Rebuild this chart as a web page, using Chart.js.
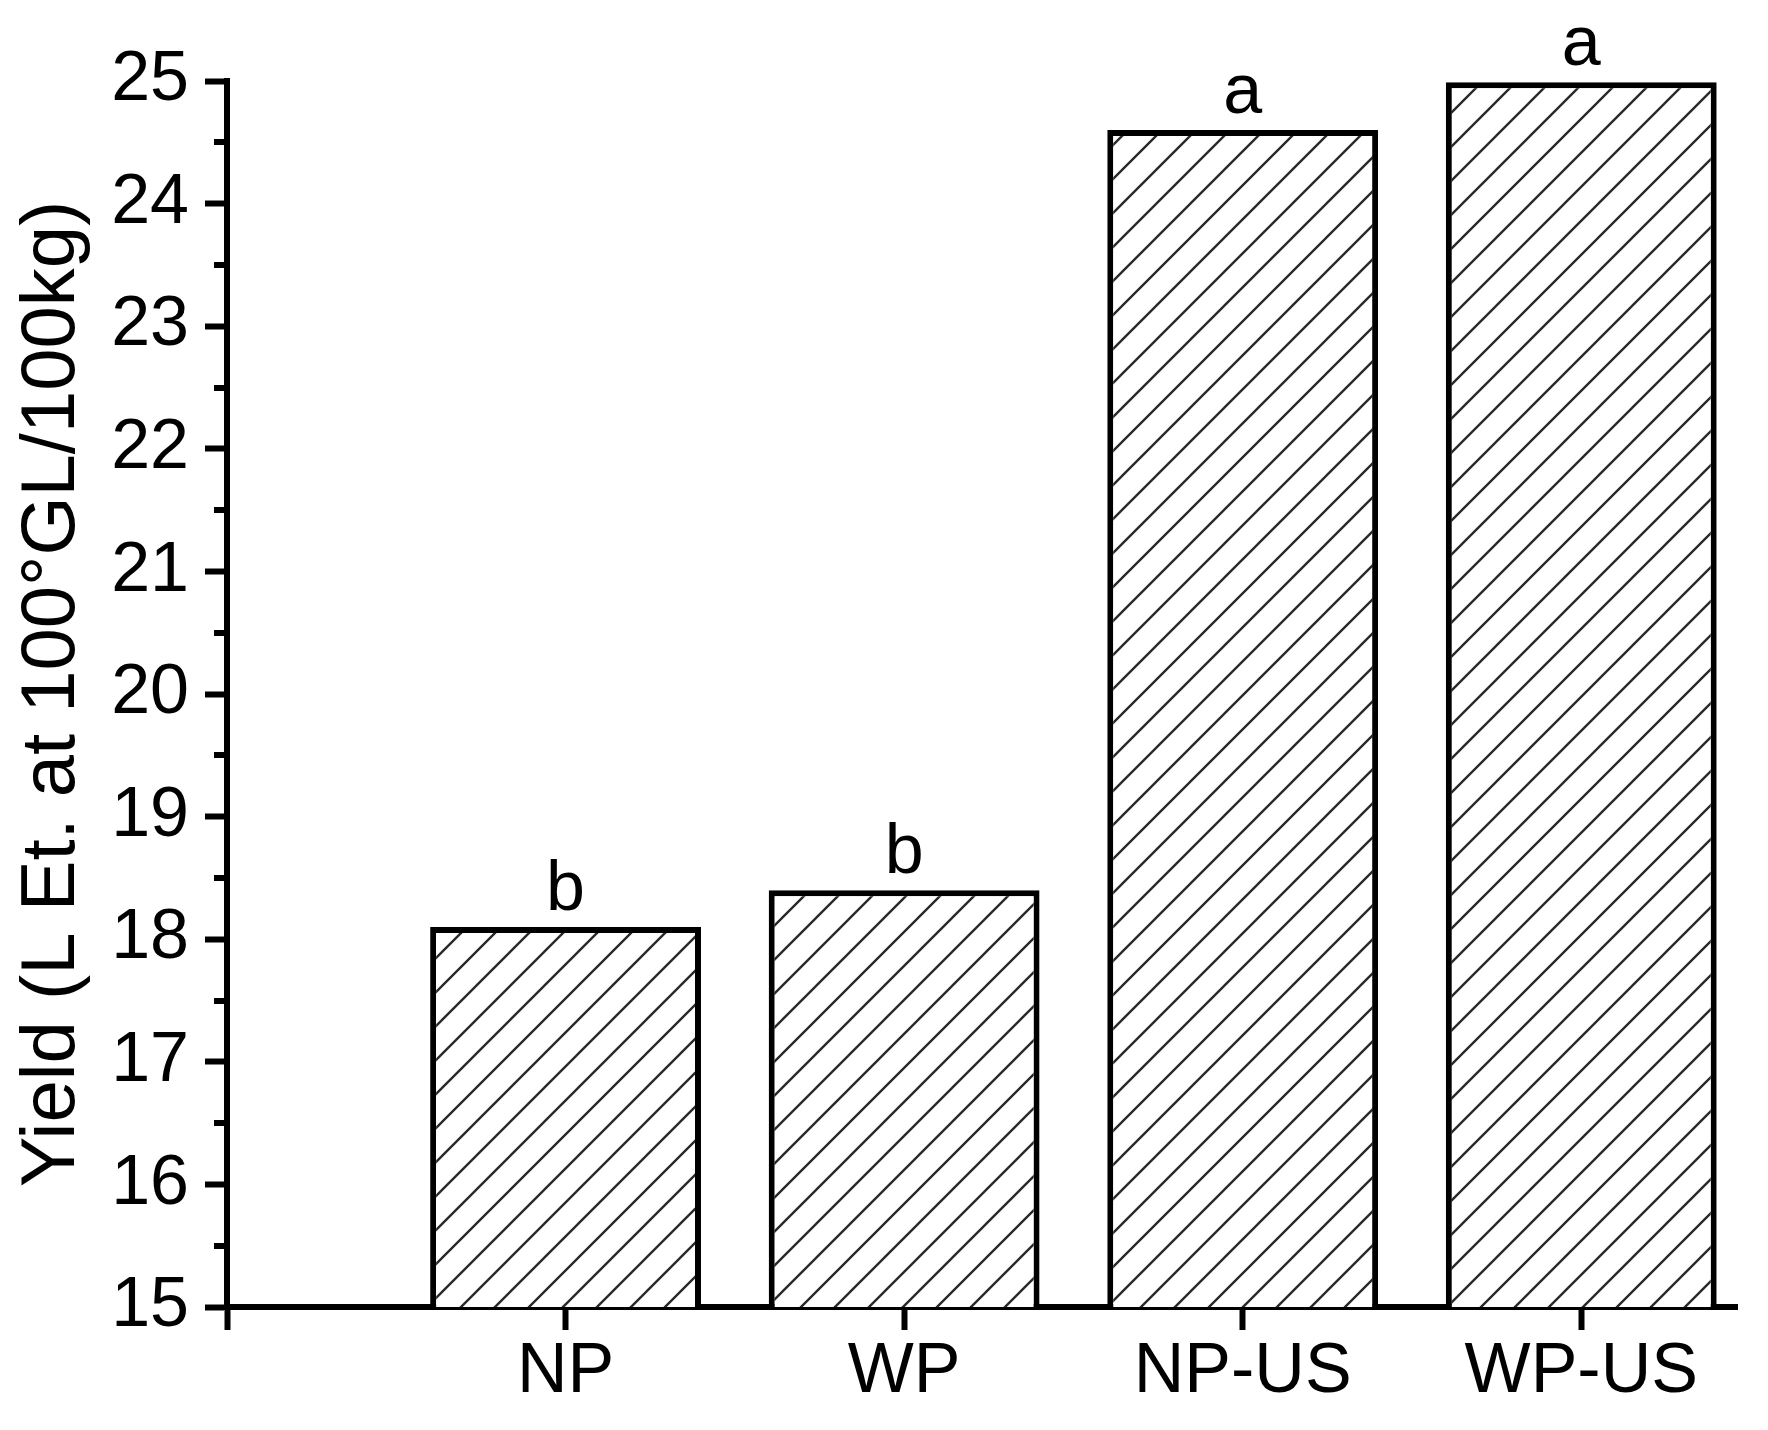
<!DOCTYPE html>
<html>
<head>
<meta charset="utf-8">
<script src="https://cdn.jsdelivr.net/npm/chart.js@4.4.1/dist/chart.umd.min.js"></script>
<style>
  html, body { margin: 0; padding: 0; background: #fff; }
  #wrap { width: 1768px; height: 1430px; }
</style>
</head>
<body>
<div id="wrap"><canvas id="myChart" width="1768" height="1430"></canvas></div>
<script>
const categories = ['NP', 'WP', 'NP-US', 'WP-US'];
const positions = [1, 2, 3, 4];
const yieldValues = [18.1, 18.4, 24.6, 24.99];
const letters = ['b', 'b', 'a', 'a'];
const xTickValues = [0, 1, 2, 3, 4];
const yMajorTicks = [15, 16, 17, 18, 19, 20, 21, 22, 23, 24, 25];
const yMinorTicks = [15.5, 16.5, 17.5, 18.5, 19.5, 20.5, 21.5, 22.5, 23.5, 24.5];

const fontFamily = "'Liberation Sans', Arial, sans-serif";

function hatch() {
    const s = 34;
    const c = document.createElement('canvas');
    c.width = s;
    c.height = s;
    const g = c.getContext('2d');
    g.fillStyle = '#fff';
    g.fillRect(0, 0, s, s);
    g.strokeStyle = '#2a2a2a';
    g.lineWidth = 2.4;
    g.beginPath();
    g.moveTo(0, s);
    g.lineTo(s, 0);
    g.moveTo(-2, 2);
    g.lineTo(2, -2);
    g.moveTo(s - 2, s + 2);
    g.lineTo(s + 2, s - 2);
    g.stroke();
    return g.createPattern(c, 'repeat');
}

// small ticks between the numbered ones
const minorTicks = {
    id: 'minorTicks',
    afterDraw(chart) {
        const ctx = chart.ctx;
        const y = chart.scales.y;
        const left = chart.chartArea.left;
        ctx.save();
        ctx.strokeStyle = '#000';
        ctx.lineWidth = 6;
        ctx.beginPath();
        yMinorTicks.forEach(v => {
            const py = Math.round(y.getPixelForValue(v));
            ctx.moveTo(left - 13, py);
            ctx.lineTo(left, py);
        });
        ctx.stroke();
        ctx.restore();
    }
};

// significance letters over the bars
const barLetters = {
    id: 'barLetters',
    afterDatasetsDraw(chart) {
        const ctx = chart.ctx;
        const meta = chart.getDatasetMeta(0);
        ctx.save();
        ctx.fillStyle = '#000';
        ctx.font = '70px ' + fontFamily;
        ctx.textAlign = 'center';
        ctx.textBaseline = 'alphabetic';
        meta.data.forEach((bar, i) => {
            ctx.fillText(letters[i], bar.x, bar.y - 17);
        });
        ctx.restore();
    }
};

function drawChart() {
    const ctx = document.getElementById('myChart');

    new Chart(ctx, {
        type: 'bar',
        data: {
            datasets: [{
                label: 'Yield',
                data: positions.map((p, i) => ({ x: p, y: yieldValues[i] })),
                backgroundColor: hatch(),
                borderColor: '#000',
                borderWidth: 6,
                barPercentage: 0.8,
                categoryPercentage: 1.0
            }]
        },
        options: {
            responsive: false,
            animation: false,
            devicePixelRatio: 1,
            layout: {
                padding: { left: 0, top: 81, right: 31, bottom: 0 }
            },
            plugins: {
                legend: { display: false },
                tooltip: { enabled: false }
            },
            scales: {
                x: {
                    type: 'linear',
                    min: 0,
                    max: 4.46,
                    offset: false,
                    afterFit: s => { s.height = 123; },
                    afterBuildTicks: s => { s.ticks = xTickValues.map(v => ({ value: v })); },
                    grid: {
                        drawOnChartArea: false,
                        drawTicks: true,
                        tickLength: 23,
                        tickWidth: 6,
                        tickColor: '#000',
                        offset: false
                    },
                    border: { color: '#000', width: 6 },
                    ticks: {
                        autoSkip: false,
                        maxRotation: 0,
                        padding: 1,
                        color: '#000',
                        font: { family: fontFamily, size: 70 },
                        callback: v => categories[positions.indexOf(v)] || ''
                    }
                },
                y: {
                    min: 15,
                    max: 25,
                    afterFit: s => { s.width = 227; },
                    afterBuildTicks: s => { s.ticks = yMajorTicks.map(v => ({ value: v })); },
                    grid: {
                        drawOnChartArea: false,
                        drawTicks: true,
                        tickLength: 22,
                        tickWidth: 6,
                        tickColor: '#000'
                    },
                    border: { color: '#000', width: 6 },
                    ticks: {
                        padding: 16,
                        color: '#000',
                        font: { family: fontFamily, size: 70 }
                    },
                    title: {
                        display: true,
                        text: 'Yield (L Et. at 100°GL/100kg)',
                        color: '#000',
                        font: { family: fontFamily, size: 76 },
                        padding: { top: 7, bottom: 0 }
                    }
                }
            }
        },
        plugins: [minorTicks, barLetters]
    });
}
drawChart();
</script>
</body>
</html>
